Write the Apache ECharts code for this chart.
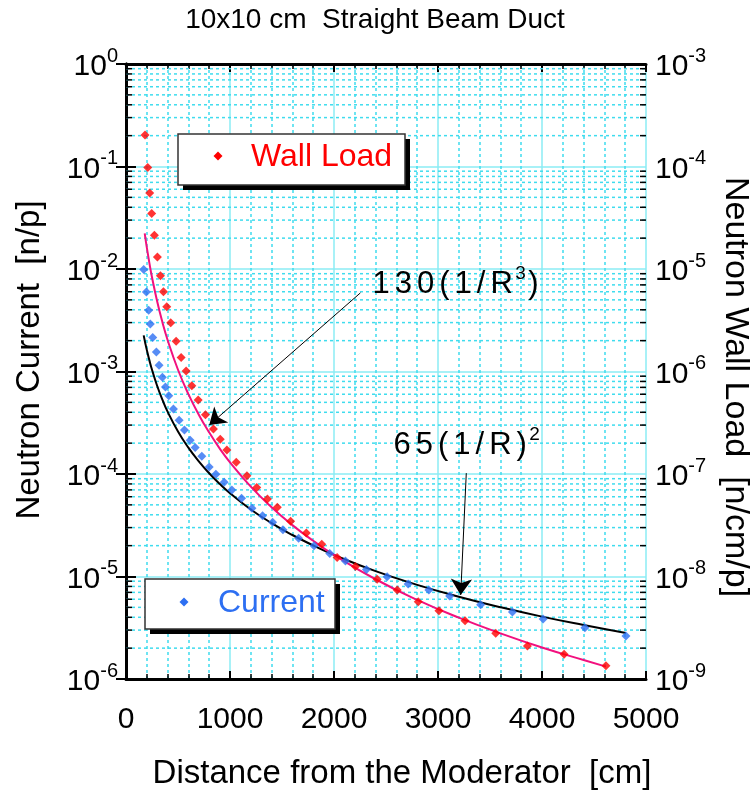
<!DOCTYPE html>
<html><head><meta charset="utf-8">
<script src="https://cdn.jsdelivr.net/npm/echarts@6/dist/echarts.min.js"></script>
<style>html,body{margin:0;padding:0;background:#fff}#c{width:750px;height:792px}</style>
</head><body><div id="c"></div>
<script>
// ---- data ----
const xTicks = [0, 1000, 2000, 3000, 4000, 5000];
const wallX = [183,209,228,247,273,302,331,360,392,430,482,530,578,633,694,764,841,906,970,1060,1163,1257,1360,1455,1583,1734,1882,2030,2206,2415,2608,2810,3009,3260,3555,3860,4213,4615];
const wallY = [2.03e-4,9.8e-5,5.5e-5,3.47e-5,2.14e-5,1.31e-5,8.6e-6,6.0e-6,4.28e-6,2.99e-6,1.97e-6,1.37e-6,1.01e-6,7.27e-7,5.27e-7,3.79e-7,2.75e-7,2.18e-7,1.71e-7,1.30e-7,9.63e-8,7.38e-8,5.7e-8,4.73e-8,3.45e-8,2.65e-8,2.06e-8,1.53e-8,1.25e-8,9.38e-9,7.38e-9,5.68e-9,4.64e-9,3.71e-9,2.79e-9,2.10e-9,1.74e-9,1.35e-9];
const curX = [170,196,218,234,257,292,318,350,379,411,456,511,562,617,665,729,800,864,944,1018,1111,1211,1313,1410,1509,1660,1808,1959,2110,2312,2511,2713,2912,3112,3410,3716,4011,4412,4807];
const curY = [9.9e-3,5.97e-3,3.95e-3,2.9e-3,2.15e-3,1.55e-3,1.15e-3,8.77e-4,7.06e-4,5.81e-4,4.31e-4,3.34e-4,2.69e-4,2.13e-4,1.81e-4,1.49e-4,1.17e-4,9.93e-5,8.3e-5,6.98e-5,5.79e-5,4.62e-5,3.92e-5,3.38e-5,2.86e-5,2.36e-5,2.0e-5,1.68e-5,1.42e-5,1.17e-5,9.95e-6,8.45e-6,7.38e-6,6.45e-6,5.31e-6,4.51e-6,3.85e-6,3.17e-6,2.63e-6];
// fitted curves as drawn: 65(1/R)^2 (left axis) and 130(1/R^3) (right axis)
const fit2X = [170,185,200,225,250,300,350,400,500,600,700,800,900,1000,1200,1400,1600,1800,2000,2400,2800,3200,3600,4000,4400,4807];
const fit2Y = [2.249e-3,1.899e-3,1.625e-3,1.284e-3,1.04e-3,7.22e-4,5.31e-4,4.06e-4,2.6e-4,1.806e-4,1.327e-4,1.016e-4,8.02e-5,6.5e-5,4.51e-5,3.32e-5,2.54e-5,2.01e-5,1.625e-5,1.128e-5,8.29e-6,6.35e-6,5.02e-6,4.06e-6,3.36e-6,2.81e-6];
const fit3X = [180,190,200,225,250,300,350,400,500,600,700,800,900,1000,1200,1400,1600,1800,2000,2400,2800,3200,3600,4000,4400,4615];
const fit3Y = [2.229e-5,1.895e-5,1.625e-5,1.141e-5,8.32e-6,4.81e-6,3.03e-6,2.03e-6,1.04e-6,6.02e-7,3.79e-7,2.54e-7,1.78e-7,1.3e-7,7.52e-8,4.74e-8,3.17e-8,2.23e-8,1.625e-8,9.40e-9,5.92e-9,3.97e-9,2.79e-9,2.03e-9,1.53e-9,1.32e-9];
const leftRange = [1e-6, 1];
const rightRange = [1e-9, 1e-3];

const FONT = '"Liberation Sans", Arial, sans-serif';
const zip = (a, b) => a.map((v, i) => [v, b[i]]);
const minorVals = [];
for (let e = -6; e < 0; e++) for (let m = 2; m <= 9; m++) minorVals.push([0, m * Math.pow(10, e)]);

const supLabel = v => '{b|10}{s|' + Math.round(Math.log10(v)) + '}';
const labelRich = {
  b: {fontSize: 30, fontFamily: FONT, color: '#000', lineHeight: 36, verticalAlign: 'bottom'},
  s: {fontSize: 20, fontFamily: FONT, color: '#000', lineHeight: 20, verticalAlign: 'top'}
};
const GRID_SOLID = '#8becf4', GRID_DASH = '#3fdcee';

const chart = echarts.init(document.getElementById('c'), null, {renderer: 'canvas'});
const xCommon = {
  type: 'value', min: 0, max: 5000, interval: 1000,
  axisLine: {show: true, lineStyle: {color: '#000', width: 3}},
  axisTick: {show: true, inside: true, length: 8, lineStyle: {color: '#000', width: 2}},
  minorTick: {show: true, splitNumber: 5, length: 5, lineStyle: {color: '#000', width: 1.5}}
};
const txt = (x, y, text, size, extra) => Object.assign({type: 'text', x: x, y: y, z: 10, style: {text: text, font: size + 'px ' + FONT, fill: '#000', align: 'center', verticalAlign: 'middle', textAlign: 'center', textVerticalAlign: 'middle'}}, extra || {});
chart.setOption({
  animation: false,
  grid: {left: 126, right: 104, top: 64, bottom: 113, containLabel: false},
  xAxis: [
    Object.assign({}, xCommon, {
      position: 'bottom',
      axisLabel: {fontSize: 30, fontFamily: FONT, color: '#000', margin: 26,
        formatter: v => xTicks.indexOf(v) >= 0 ? String(v) : ''},
      splitLine: {show: true, lineStyle: {color: GRID_SOLID, width: 1.5}},
      minorSplitLine: {show: true, lineStyle: {color: GRID_DASH, width: 1.5, type: [3, 3]}}
    }),
    Object.assign({}, xCommon, {position: 'top', axisLabel: {show: false}, splitLine: {show: false}})
  ],
  yAxis: [
    {type: 'log', logBase: 10, min: leftRange[0], max: leftRange[1], interval: 1, position: 'left',
      axisLine: {show: true, lineStyle: {color: '#000', width: 3}},
      axisTick: {show: true, inside: true, length: 10, lineStyle: {color: '#000', width: 2}},
      axisLabel: {margin: 8, formatter: supLabel, rich: labelRich},
      splitLine: {show: true, lineStyle: {color: GRID_SOLID, width: 1.5}}},
    {type: 'log', logBase: 10, min: rightRange[0], max: rightRange[1], interval: 1, position: 'right',
      axisLine: {show: true, lineStyle: {color: '#000', width: 3}},
      axisTick: {show: true, inside: true, length: 10, lineStyle: {color: '#000', width: 2}},
      axisLabel: {margin: 9, formatter: supLabel, rich: labelRich},
      splitLine: {show: false}}
  ],
  series: [
    {type: 'custom', xAxisIndex: 0, yAxisIndex: 0, z: 1, silent: true, data: minorVals,
      renderItem: function (params, api) {
        const y = api.coord([0, api.value(1)])[1];
        const cs = params.coordSys;
        return {type: 'group', children: [
          {type: 'line', shape: {x1: cs.x, y1: y, x2: cs.x + cs.width, y2: y}, style: {stroke: GRID_DASH, lineWidth: 1.5, lineDash: [3, 3]}},
          {type: 'line', shape: {x1: cs.x, y1: y, x2: cs.x + 6, y2: y}, style: {stroke: '#000', lineWidth: 1.5}},
          {type: 'line', shape: {x1: cs.x + cs.width - 6, y1: y, x2: cs.x + cs.width, y2: y}, style: {stroke: '#000', lineWidth: 1.5}}
        ]};
      }},
    {name: '65(1/R)^2', type: 'line', xAxisIndex: 0, yAxisIndex: 0, z: 3, data: zip(fit2X, fit2Y), smooth: true,
      showSymbol: false, lineStyle: {color: '#000', width: 2},
      markLine: {silent: true, symbol: ['none', 'arrow'], symbolSize: 16, label: {show: false},
        lineStyle: {color: '#000', width: 1, type: 'solid'},
        data: [
          [{coord: [2254, 5.85e-3]}, {coord: [800, 3.0e-4]}],
          [{coord: [3272, 1.02e-4]}, {coord: [3218, 6.6e-6]}]
        ]}},
    {name: '130(1/R^3)', type: 'line', xAxisIndex: 0, yAxisIndex: 1, z: 3, data: zip(fit3X, fit3Y), smooth: true,
      showSymbol: false, lineStyle: {color: '#f2107e', width: 2}},
    {name: 'Wall Load', type: 'scatter', xAxisIndex: 0, yAxisIndex: 1, z: 4, data: zip(wallX, wallY),
      symbol: 'diamond', symbolSize: 9, itemStyle: {color: '#ff0000'}},
    {name: 'Current', type: 'scatter', xAxisIndex: 0, yAxisIndex: 0, z: 4, data: zip(curX, curY),
      symbol: 'diamond', symbolSize: 9, itemStyle: {color: '#2d6ff2'}}
  ],
  graphic: [
    txt(375, 20, '10x10 cm  Straight Beam Duct', 28),
    txt(402, 774, 'Distance from the Moderator  [cm]', 33),
    txt(30, 360, 'Neutron Current  [n/p]', 33, {rotation: Math.PI / 2}),
    txt(735, 387, 'Neutron Wall Load  [n/cm/p]', 34, {rotation: -Math.PI / 2}),
    // legend: Wall Load
    {type: 'rect', z: 20, shape: {x: 183, y: 139, width: 227, height: 51}, style: {fill: '#000'}},
    {type: 'rect', z: 21, shape: {x: 178, y: 134, width: 227, height: 51}, style: {fill: '#fff', stroke: '#333', lineWidth: 1.5}},
    {type: 'polygon', z: 22, shape: {points: [[218, 151.5], [222.5, 156], [218, 160.5], [213.5, 156]]}, style: {fill: '#ff0000'}},
    {type: 'text', z: 22, x: 251, y: 157, style: {text: 'Wall Load', font: '32px ' + FONT, fill: '#ff0000', align: 'left', verticalAlign: 'middle', textAlign: 'left', textVerticalAlign: 'middle'}},
    // legend: Current
    {type: 'rect', z: 20, shape: {x: 150, y: 584, width: 190, height: 50}, style: {fill: '#000'}},
    {type: 'rect', z: 21, shape: {x: 145, y: 579, width: 190, height: 50}, style: {fill: '#fff', stroke: '#333', lineWidth: 1.5}},
    {type: 'polygon', z: 22, shape: {points: [[184, 597.5], [188.5, 602], [184, 606.5], [179.5, 602]]}, style: {fill: '#2d6ff2'}},
    {type: 'text', z: 22, x: 218, y: 603, style: {text: 'Current', font: '32px ' + FONT, fill: '#2d6ff2', align: 'left', verticalAlign: 'middle', textAlign: 'left', textVerticalAlign: 'middle'}},
    // annotations
    {type: 'text', z: 22, x: 370, y: 300, style: {
      text: '{a|1}{a|3}{a|0}{a|(}{a|1}{a|/}{a|R}{s|3}{a|)}', align: 'left', verticalAlign: 'bottom', textAlign: 'left', textVerticalAlign: 'bottom',
      rich: {a: {font: '31px ' + FONT, fill: '#000', color: '#000', padding: [0, 2.5, 0, 2.5], lineHeight: 36, verticalAlign: 'bottom'},
             s: {font: '19px ' + FONT, fill: '#000', color: '#000', lineHeight: 19, verticalAlign: 'top'}}}},
    {type: 'text', z: 22, x: 391, y: 461, style: {
      text: '{a|6}{a|5}{a|(}{a|1}{a|/}{a|R}{a|)}{s|2}', align: 'left', verticalAlign: 'bottom', textAlign: 'left', textVerticalAlign: 'bottom',
      rich: {a: {font: '31px ' + FONT, fill: '#000', color: '#000', padding: [0, 2.5, 0, 2.5], lineHeight: 36, verticalAlign: 'bottom'},
             s: {font: '19px ' + FONT, fill: '#000', color: '#000', lineHeight: 19, verticalAlign: 'top'}}}}
  ]
});
</script></body></html>
